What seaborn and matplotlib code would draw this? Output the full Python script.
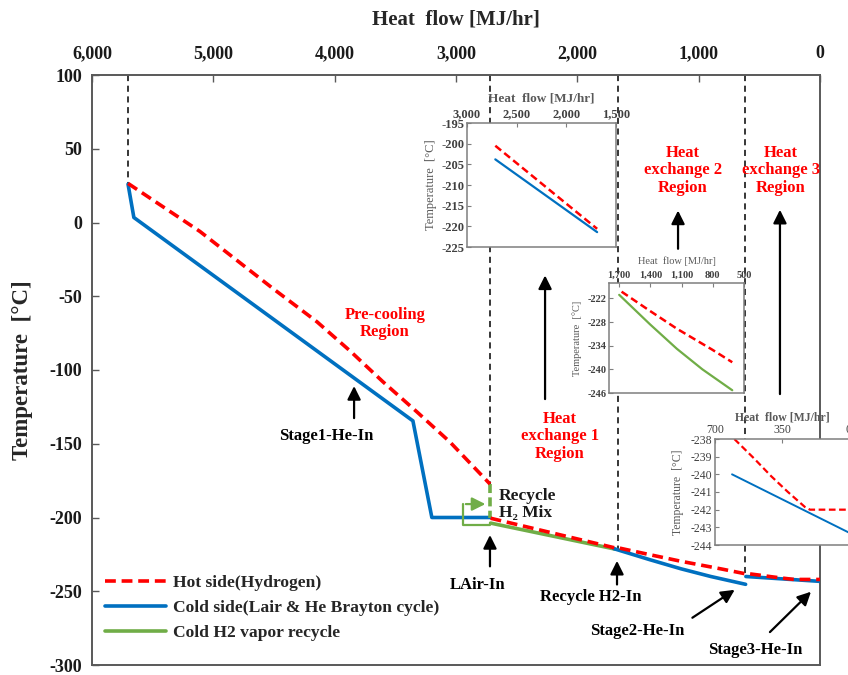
import matplotlib
matplotlib.use("Agg")
import matplotlib.pyplot as plt
import seaborn as sns
from matplotlib.lines import Line2D

# ---------------- data ----------------
# Pre-cooling region (main chart)
pre_x = [5703, 5110, 4508, 4146, 3874, 3602, 3322, 3050, 2720]
pre_hot = [26.5, -6.1, -44.8, -67.3, -87.0, -108.0, -128.4, -148.8, -177.3]
pre_cold_x = [5703, 5655, 3355, 3199, 2720]
pre_cold = [26.0, 3.4, -134.5, -200.0, -200.0]

# Recycle H2 mix (vertical green segment at LAir-In)
mix_x = [2720, 2720]
mix_y = [-177.3, -200.5]

# Heat exchange 1
hx1_x = [2715, 1690]
hx1_hot = [-200.5, -220.6]
hx1_cold = [-203.8, -221.4]

# Heat exchange 2
hx2_hot_x = [1677, 1403, 1145, 806, 613]
hx2_hot = [-220.3, -225.2, -229.7, -235.0, -238.2]
hx2_cold_x = [1700, 1403, 1145, 900, 613]
hx2_cold = [-221.1, -228.6, -234.8, -240.0, -245.3]

# Heat exchange 3
hx3_hot_x = [599, 496, 407, 319, 230, 204, 0]
hx3_hot = [-238.0, -239.1, -240.1, -241.0, -241.85, -242.0, -242.0]
hx3_cold_x = [611, 0]
hx3_cold = [-240.0, -243.3]

# region boundaries (vertical dashed lines): x, bottom temperature
bound_x = [5705, 2720, 1665, 618]
bound_y = [26.5, -177.3, -222.0, -238.5]

# ticks
main_xticks = [6000, 5000, 4000, 3000, 2000, 1000, 0]
main_yticks = [100, 50, 0, -50, -100, -150, -200, -250, -300]
in1_xticks = [3000, 2500, 2000, 1500]
in1_yticks = [-195, -200, -205, -210, -215, -220, -225]
in2_xticks = [1700, 1400, 1100, 800, 500]
in2_yticks = [-222, -228, -234, -240, -246]
in3_xticks = [700, 350, 0]
in3_yticks = [-238, -239, -240, -241, -242, -243, -244]

legend_labels = ["Hot side(Hydrogen)", "Cold side(Lair & He Brayton cycle)",
                 "Cold H2 vapor recycle"]

RED = "#FF0000"
BLUE = "#0070C0"
GREEN = "#70AD47"
SPINE = "#595959"
DASH = (0, (3, 1.6))

# ---------------- style ----------------
sns.set_style("white")
plt.rcParams["font.family"] = ["Liberation Serif", "DejaVu Serif"]
plt.rcParams["axes.unicode_minus"] = False

W, H = 848, 675
fig = plt.figure(figsize=(W / 100, H / 100), dpi=100)


def rect(l, t, r, b):
    return [l / W, 1 - b / H, (r - l) / W, (b - t) / H]


ax = fig.add_axes(rect(92, 75, 820, 665))

# boundaries
for bx, by in zip(bound_x, bound_y):
    ax.plot([bx, bx], [100, by], color="black", lw=1.1, ls=(0, (4, 3)), zorder=1)

# main curves
sns.lineplot(x=pre_x, y=pre_hot, ax=ax, color=RED, lw=2.6, linestyle=DASH,
             sort=False, estimator=None, zorder=4)
sns.lineplot(x=pre_cold_x, y=pre_cold, ax=ax, color=BLUE, lw=2.6,
             sort=False, estimator=None, zorder=3)
sns.lineplot(x=mix_x, y=mix_y, ax=ax, color=GREEN, lw=2.6, linestyle=(0, (2.5, 1.2)),
             sort=False, estimator=None, zorder=3)
sns.lineplot(x=hx1_x, y=hx1_cold, ax=ax, color=GREEN, lw=2.6,
             sort=False, estimator=None, zorder=3)
sns.lineplot(x=hx2_cold_x, y=hx2_cold, ax=ax, color=BLUE, lw=2.6,
             sort=False, estimator=None, zorder=3)
sns.lineplot(x=hx3_cold_x, y=hx3_cold, ax=ax, color=BLUE, lw=2.6,
             sort=False, estimator=None, zorder=3)
hot_rest_x = hx1_x + hx2_hot_x + hx3_hot_x
hot_rest_y = hx1_hot + hx2_hot + hx3_hot
sns.lineplot(x=hot_rest_x, y=hot_rest_y, ax=ax, color=RED, lw=2.6, linestyle=DASH,
             sort=False, estimator=None, zorder=4)

# green recycle loop arrow
loop_x = [2720, 2942, 2942]
loop_y = [-205.2, -205.2, -190.9]
ax.plot(loop_x, loop_y, color=GREEN, lw=1.6, zorder=3)
ax.annotate("", xy=(2735, -190.9), xytext=(2942, -190.9),
            arrowprops=dict(arrowstyle="-|>", color=GREEN, lw=1.6, mutation_scale=20))

ax.set_xlim(6000, 0)
ax.set_ylim(-300, 100)
ax.xaxis.tick_top()
ax.xaxis.set_label_position("top")
ax.set_xticks(main_xticks)
ax.set_xticklabels([f"{v:,}" for v in main_xticks])
ax.set_yticks(main_yticks)
ax.set_yticklabels([str(v) for v in main_yticks])
ax.tick_params(axis="both", direction="in", length=5, width=1, color=SPINE,
               labelsize=13, labelcolor="#1a1a1a")
ax.tick_params(axis="x", top=True, bottom=False, pad=9)
ax.tick_params(axis="y", left=True, right=False, pad=7)
for lab in ax.get_xticklabels() + ax.get_yticklabels():
    lab.set_fontweight("bold")
ax.set_xlabel("Heat  flow [MJ/hr]", fontsize=15, fontweight="bold", labelpad=15)
ax.set_ylabel("Temperature  [°C]", fontsize=16.5, fontweight="bold", labelpad=12)
for s in ax.spines.values():
    s.set_color(SPINE)
    s.set_linewidth(1.4)

# annotations
txt = dict(fontsize=12, fontweight="bold", ha="center", va="center")
arw = dict(arrowstyle="-|>", color="black", lw=1.6, mutation_scale=20)
ax.text(3585, -68.5, "Pre-cooling\nRegion", color=RED, linespacing=1.1, **txt)
ax.text(4071, -144.5, "Stage1-He-In", color="black", **txt)
ax.annotate("", xy=(3840, -109), xytext=(3840, -134.5), arrowprops=arw)
ax.text(2143, -145, "Heat\nexchange 1\nRegion", color=RED, linespacing=1.15, **txt)
ax.annotate("", xy=(2266, -34), xytext=(2266, -121.6), arrowprops=arw)
ax.text(1129, 35.3, "Heat\nexchange 2\nRegion", color=RED, linespacing=1.15, **txt)
ax.annotate("", xy=(1170, 10), xytext=(1170, -19.7), arrowprops=arw)
ax.text(321, 35.3, "Heat\nexchange 3\nRegion", color=RED, linespacing=1.15, **txt)
ax.annotate("", xy=(330, 10.5), xytext=(330, -118.2), arrowprops=arw)
ax.text(2819, -246, "LAir-In", color="black", **txt)
ax.annotate("", xy=(2720, -210), xytext=(2720, -235), arrowprops=arw)
ax.text(1887, -254, "Recycle H2-In", color="black", **txt)
ax.annotate("", xy=(1673, -227.5), xytext=(1673, -247.3), arrowprops=arw)
ax.text(2646, -191, "Recycle\nH₂ Mix", color="#1a1a1a", fontsize=12.5, fontweight="bold",
        ha="left", va="center", linespacing=1.1)
ax.text(1508, -277, "Stage2-He-In", color="black", **txt)
ax.annotate("", xy=(684, -248), xytext=(1071, -269), arrowprops=arw)
ax.text(536, -290, "Stage3-He-In", color="black", **txt)
ax.annotate("", xy=(58, -249), xytext=(429, -279), arrowprops=arw)

handles = [Line2D([], [], color=RED, lw=2.6, ls=DASH),
           Line2D([], [], color=BLUE, lw=2.6),
           Line2D([], [], color=GREEN, lw=2.6)]
leg = ax.legend(handles, legend_labels, loc="upper left", frameon=False,
                bbox_to_anchor=(105 / W, 1 - 575 / H), bbox_transform=fig.transFigure,
                prop=dict(family=["Liberation Serif"], weight="bold", size=12.6),
                handlelength=3.5, handletextpad=0.4, labelspacing=0.5, borderpad=0,
                borderaxespad=0)


def make_inset(r, xlim, ylim, xticks, yticks, tick_w, tick_size, title_w, title_size,
               ylab_size, title_pad, ylab_pad):
    a = fig.add_axes(r)
    a.set_facecolor("white")
    a.set_xlim(*xlim)
    a.set_ylim(*ylim)
    a.xaxis.tick_top()
    a.xaxis.set_label_position("top")
    a.set_xticks(xticks)
    a.set_xticklabels([f"{v:,}" for v in xticks])
    a.set_yticks(yticks)
    a.set_yticklabels([str(v) for v in yticks])
    a.tick_params(axis="both", direction="in", length=3, width=0.8, color="#7f7f7f",
                  labelsize=tick_size, labelcolor="#404040", pad=2)
    a.tick_params(axis="x", top=True, bottom=False)
    a.tick_params(axis="y", left=True, right=False)
    for lab in a.get_xticklabels() + a.get_yticklabels():
        lab.set_fontweight(tick_w)
    a.set_xlabel("Heat  flow [MJ/hr]", fontsize=title_size, fontweight=title_w,
                 color="#595959", labelpad=title_pad)
    a.set_ylabel("Temperature  [°C]", fontsize=ylab_size, color="#595959",
                 labelpad=ylab_pad)
    for s in a.spines.values():
        s.set_color("#7f7f7f")
        s.set_linewidth(1.1)
    return a


# inset 1 : heat exchange 1
a1 = make_inset(rect(467, 123, 616, 247), (3000, 1500), (-225, -195), in1_xticks, in1_yticks,
                "bold", 9, "bold", 9.5, 9, 5, 3)
sns.lineplot(x=hx1_x, y=hx1_hot, ax=a1, color=RED, lw=1.8, linestyle=DASH,
             sort=False, estimator=None)
sns.lineplot(x=hx1_x, y=hx1_cold, ax=a1, color=BLUE, lw=1.6, sort=False, estimator=None)

# inset 2 : heat exchange 2
a2 = make_inset(rect(609, 283, 744, 393), (1798, 500), (-246, -218.1), in2_xticks, in2_yticks,
                "bold", 7.5, "normal", 7.5, 7.5, 5, 4)
sns.lineplot(x=hx2_hot_x, y=hx2_hot, ax=a2, color=RED, lw=1.8, linestyle=DASH,
             sort=False, estimator=None)
sns.lineplot(x=hx2_cold_x, y=hx2_cold, ax=a2, color=GREEN, lw=1.6, sort=False, estimator=None)

# inset 3 : heat exchange 3
a3 = make_inset(rect(715, 439, 849, 545), (700, 0), (-244, -238), in3_xticks, in3_yticks,
                "normal", 8.5, "bold", 8.5, 8.5, 3, 5)
sns.lineplot(x=hx3_hot_x, y=hx3_hot, ax=a3, color=RED, lw=1.6, linestyle=DASH,
             sort=False, estimator=None)
sns.lineplot(x=hx3_cold_x, y=hx3_cold, ax=a3, color=BLUE, lw=1.4, sort=False, estimator=None)

fig.savefig("out.png", dpi=100)
